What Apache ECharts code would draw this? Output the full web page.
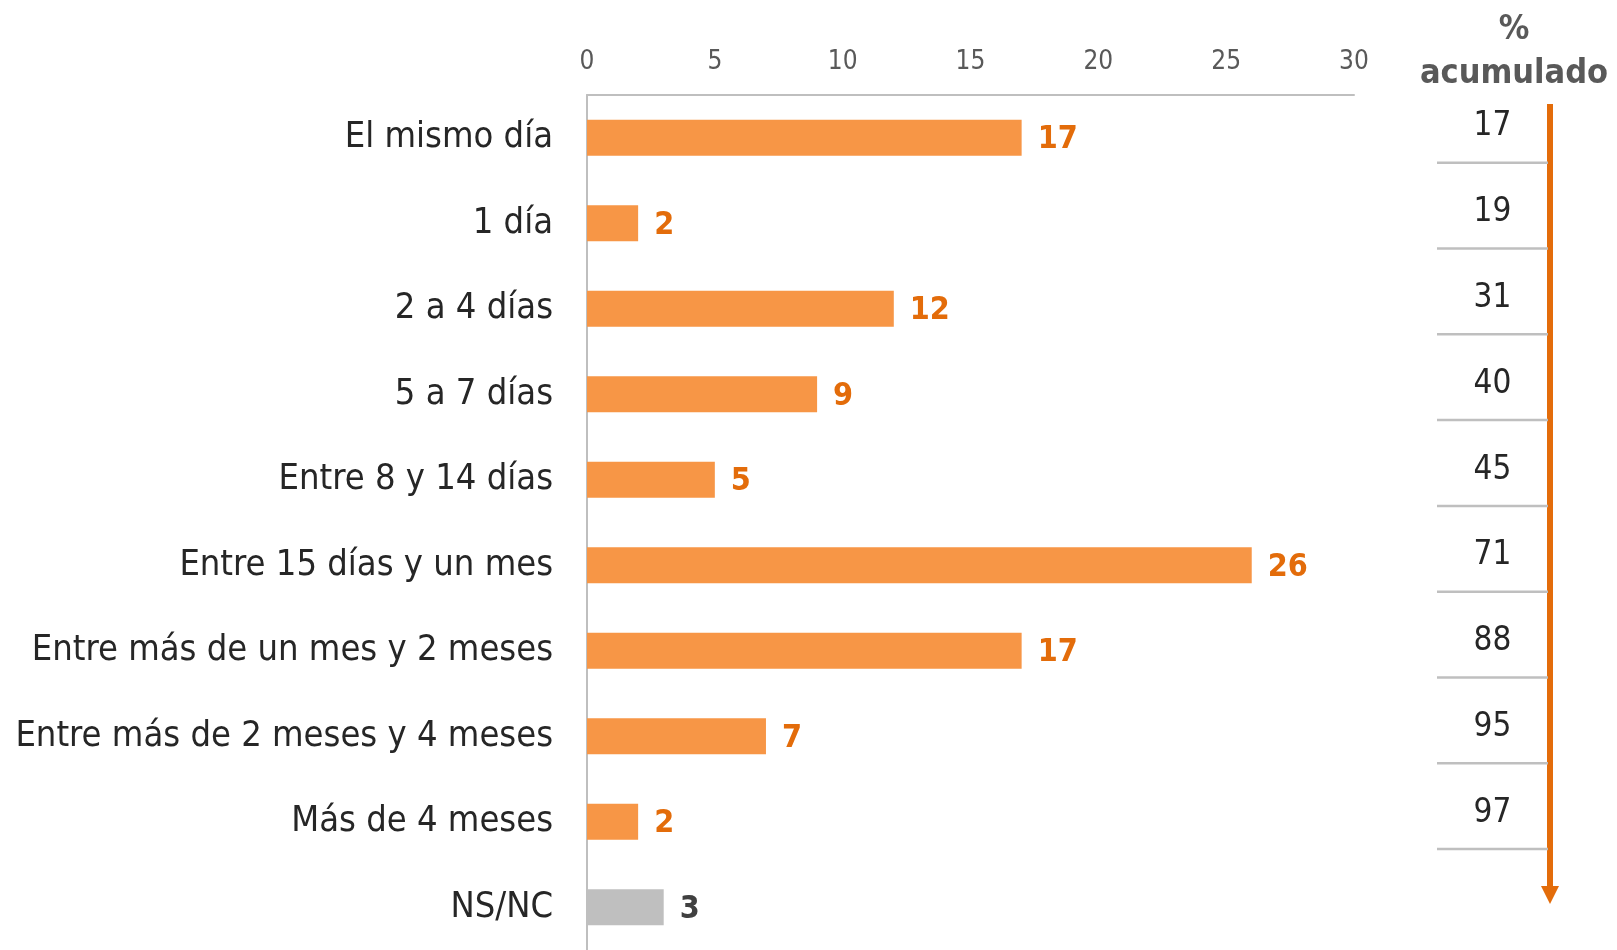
<!DOCTYPE html>
<html>
<head>
<meta charset="utf-8">
<script src="https://cdn.jsdelivr.net/npm/echarts@6/dist/echarts.min.js"></script>
<style>
    html, body { margin: 0; padding: 0; background: #fff; }
    #chart { width: 1617px; height: 950px; }
</style>
</head>
<body>
<div id="chart"></div>
<script>
// datos
const categories = [
    'El mismo día',
    '1 día',
    '2 a 4 días',
    '5 a 7 días',
    'Entre 8 y 14 días',
    'Entre 15 días y un mes',
    'Entre más de un mes y 2 meses',
    'Entre más de 2 meses y 4 meses',
    'Más de 4 meses',
    'NS/NC'
];
const values = [17, 2, 12, 9, 5, 26, 17, 7, 2, 3];
const acumulado = [17, 19, 31, 40, 45, 71, 88, 95, 97];
const xTicks = [0, 5, 10, 15, 20, 25, 30];

const FONT = 'DejaVu Sans Condensed';
const ORANGE = '#f79646';
const ORANGE_DARK = '#e36c0a';
const GREY = '#bfbfbf';

const chart = echarts.init(document.getElementById('chart'));

const barData = values.map((v, i) => {
    const isNs = categories[i] === 'NS/NC';
    return {
        value: v,
        itemStyle: { color: isNs ? GREY : ORANGE },
        label: { color: isNs ? '#404040' : ORANGE_DARK }
    };
});

chart.setOption({
    animation: false,
    grid: [
        { left: 587, top: 95, width: 767, height: 860 },
        { left: 1437, top: 77, width: 111, height: 772 }
    ],
    xAxis: [
        {
            gridIndex: 0,
            type: 'value',
            position: 'top',
            min: xTicks[0],
            max: xTicks[xTicks.length - 1],
            interval: 5,
            axisLine: { show: true, lineStyle: { color: GREY, width: 2 } },
            axisTick: { show: false },
            splitLine: { show: false },
            axisLabel: {
                margin: 20,
                fontFamily: FONT,
                fontSize: 26,
                color: '#595959'
            }
        },
        { gridIndex: 1, type: 'value', min: 0, max: 1, show: false }
    ],
    yAxis: [
        {
            gridIndex: 0,
            type: 'category',
            inverse: true,
            data: categories,
            axisLine: { show: true, lineStyle: { color: GREY, width: 2 } },
            axisTick: { show: false },
            axisLabel: {
                margin: 34,
                fontFamily: FONT,
                fontSize: 36,
                color: '#262626'
            }
        },
        {
            gridIndex: 1,
            type: 'category',
            inverse: true,
            data: acumulado.map(String),
            show: false
        }
    ],
    series: [
        {
            type: 'bar',
            xAxisIndex: 0,
            yAxisIndex: 0,
            barWidth: 36,
            data: barData,
            label: {
                show: true,
                position: 'right',
                distance: 16,
                offset: [0, 2],
                fontFamily: FONT,
                fontSize: 32,
                fontWeight: 'bold'
            }
        },
        {
            type: 'custom',
            xAxisIndex: 1,
            yAxisIndex: 1,
            data: acumulado.map((v, i) => [0.5, i, v]),
            encode: { x: 0, y: 1 },
            renderItem: (params, api) => {
                const p = api.coord([0.5, api.value(1)]);
                const h = api.size([0, 1])[1];
                const cs = params.coordSys;
                return {
                    type: 'group',
                    children: [
                        {
                            type: 'text',
                            x: p[0],
                            y: p[1] + 7,
                            style: {
                                text: String(api.value(2)),
                                fontFamily: FONT,
                                fontSize: 33,
                                fill: '#262626',
                                align: 'center',
                                verticalAlign: 'middle'
                            }
                        },
                        {
                            type: 'line',
                            shape: { x1: cs.x, y1: p[1] + h / 2, x2: cs.x + cs.width, y2: p[1] + h / 2 },
                            style: { stroke: GREY, lineWidth: 2.5 }
                        }
                    ]
                };
            }
        }
    ],
    graphic: [
        {
            type: 'text',
            x: 1514,
            y: 30,
            style: { text: '%', fontFamily: FONT, fontSize: 34, fontWeight: 'bold', fill: '#595959', align: 'center', verticalAlign: 'middle' }
        },
        {
            type: 'text',
            x: 1514,
            y: 74,
            style: { text: 'acumulado', fontFamily: FONT, fontSize: 34, fontWeight: 'bold', fill: '#595959', align: 'center', verticalAlign: 'middle' }
        },
        {
            type: 'line',
            shape: { x1: 1550, y1: 104, x2: 1550, y2: 888 },
            style: { stroke: ORANGE_DARK, lineWidth: 6 }
        },
        {
            type: 'polygon',
            shape: { points: [[1541, 886], [1559, 886], [1550, 904]] },
            style: { fill: ORANGE_DARK }
        }
    ]
});
</script>
</body>
</html>
